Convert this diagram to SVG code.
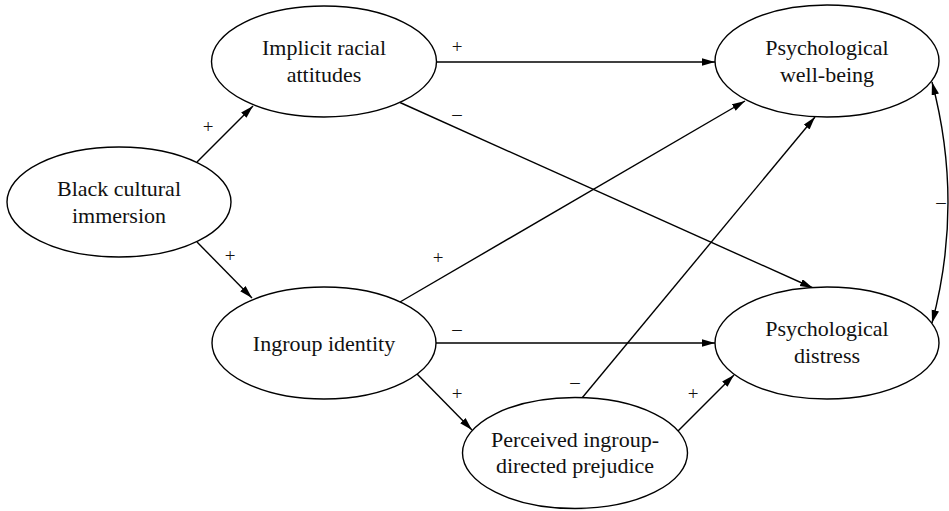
<svg xmlns="http://www.w3.org/2000/svg" width="949" height="511" viewBox="0 0 949 511">
<style>
.node ellipse{fill:#fff;stroke:#000;stroke-width:1.4}
.node text{font-family:"Liberation Serif","Times New Roman",serif;font-size:22px;fill:#111;text-anchor:middle}
.edge{fill:none;stroke:#000;stroke-width:1.4}
.lbl{font-family:"Liberation Serif","Times New Roman",serif;font-size:19px;fill:#111;text-anchor:middle}
</style>
<defs>
<marker id="ah" markerUnits="userSpaceOnUse" markerWidth="14" markerHeight="8" refX="13" refY="3.75" orient="auto-start-reverse">
<path d="M0,0 L13,3.75 L0,7.5 z" fill="#000"/>
</marker>
</defs>
<g id="connectors">
<line class="edge" x1="197" y1="162" x2="253" y2="106" marker-end="url(#ah)"/>
<line class="edge" x1="197" y1="242" x2="252" y2="298" marker-end="url(#ah)"/>
<line class="edge" x1="436" y1="62" x2="715" y2="62" marker-end="url(#ah)"/>
<line class="edge" x1="400" y1="102.5" x2="813" y2="288" marker-end="url(#ah)"/>
<line class="edge" x1="400" y1="302" x2="745" y2="101" marker-end="url(#ah)"/>
<line class="edge" x1="436" y1="343" x2="715" y2="343" marker-end="url(#ah)"/>
<line class="edge" x1="417" y1="374" x2="472" y2="430" marker-end="url(#ah)"/>
<line class="edge" x1="582" y1="398" x2="815" y2="117" marker-end="url(#ah)"/>
<line class="edge" x1="678" y1="431" x2="734" y2="375" marker-end="url(#ah)"/>
<path class="edge" d="M932,82 Q964,203 932,323" marker-start="url(#ah)" marker-end="url(#ah)"/>
<text class="lbl" x="208" y="133">+</text>
<text class="lbl" x="230" y="262">+</text>
<text class="lbl" x="457" y="53">+</text>
<text class="lbl" x="438" y="264">+</text>
<text class="lbl" x="457" y="400">+</text>
<text class="lbl" x="693" y="400">+</text>
<text class="lbl" x="457" y="120">–</text>
<text class="lbl" x="457" y="335">–</text>
<text class="lbl" x="575" y="388">–</text>
<text class="lbl" x="941" y="208">–</text>
</g>
<g id="black-cultural-immersion" class="node">
<ellipse cx="119" cy="202" rx="112" ry="55"/>
<text x="119" y="196">Black cultural</text>
<text x="119" y="223">immersion</text>
</g>
<g id="implicit-racial-attitudes" class="node">
<ellipse cx="324" cy="61.5" rx="112.5" ry="55.5"/>
<text x="324" y="55">Implicit racial</text>
<text x="324" y="82">attitudes</text>
</g>
<g id="ingroup-identity" class="node">
<ellipse cx="324" cy="343" rx="112" ry="56"/>
<text x="324" y="351">Ingroup identity</text>
</g>
<g id="perceived-prejudice" class="node">
<ellipse cx="575" cy="453" rx="112.5" ry="55.5"/>
<text x="575" y="447">Perceived ingroup-</text>
<text x="575" y="473">directed prejudice</text>
</g>
<g id="psychological-well-being" class="node">
<ellipse cx="827" cy="61" rx="112" ry="56"/>
<text x="827" y="55">Psychological</text>
<text x="827" y="82">well-being</text>
</g>
<g id="psychological-distress" class="node">
<ellipse cx="827" cy="343" rx="112" ry="56"/>
<text x="827" y="336">Psychological</text>
<text x="827" y="363">distress</text>
</g>
</svg>
